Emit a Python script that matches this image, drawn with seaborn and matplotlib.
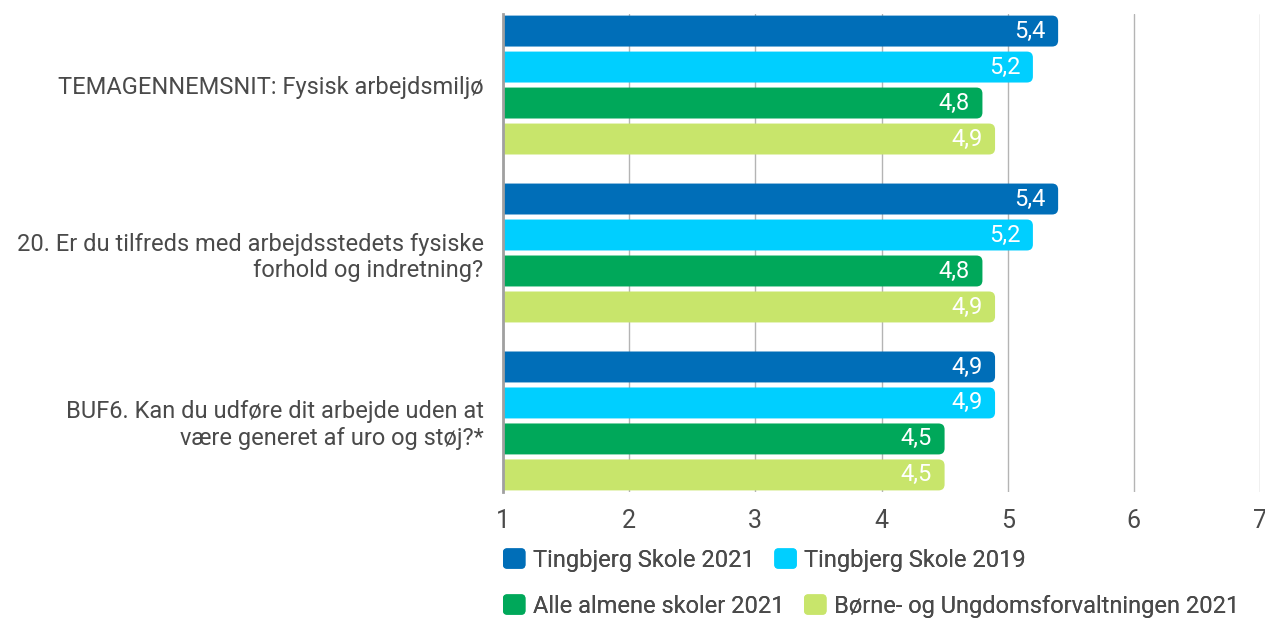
import pandas as pd
import matplotlib
matplotlib.use("Agg")
import matplotlib.pyplot as plt
from matplotlib.patches import FancyBboxPatch, Patch
from matplotlib.legend_handler import HandlerPatch
import seaborn as sns

questions = [
    "TEMAGENNEMSNIT: Fysisk arbejdsmiljø",
    "20. Er du tilfreds med arbejdsstedets fysiske\nforhold og indretning?",
    "BUF6. Kan du udføre dit arbejde uden at\nvære generet af uro og støj?*",
]
series = [
    "Tingbjerg Skole 2021",
    "Tingbjerg Skole 2019",
    "Alle almene skoler 2021",
    "Børne- og Ungdomsforvaltningen 2021",
]
tingbjerg_2021 = [5.4, 5.4, 4.9]
tingbjerg_2019 = [5.2, 5.2, 4.9]
alle_almene_2021 = [4.8, 4.8, 4.5]
buf_2021 = [4.9, 4.9, 4.5]
colors = ["#006eb8", "#00cfff", "#00a85a", "#c8e56b"]

rows = []
for s, vals in zip(series, [tingbjerg_2021, tingbjerg_2019, alle_almene_2021, buf_2021]):
    for q, v in zip(questions, vals):
        rows.append({"question": q, "series": s, "value": v})
df = pd.DataFrame(rows)

sns.set_style("white")
plt.rcParams['font.family'] = ['Roboto', 'DejaVu Sans']
text_col = "#4a4a4a"

fig = plt.figure(figsize=(12.65, 6.19), dpi=100)
ax = fig.add_axes([503 / 1265, 1 - 492 / 619, 757 / 1265, 478 / 619])

sns.barplot(data=df, y="question", x="value", hue="series", orient="h",
            palette=colors, saturation=1, width=0.857, gap=0.14,
            legend=False, ax=ax)

# rounded right ends + value labels inside
bars = list(ax.patches)
for p in bars:
    x, y, w, h = p.get_x(), p.get_y(), p.get_width(), p.get_height()
    fb = FancyBboxPatch((x, y), w, h, boxstyle="round,pad=0,rounding_size=0.048",
                        mutation_aspect=0.75, fc=p.get_facecolor(), ec="none", zorder=2)
    p.remove()
    ax.add_patch(fb)
    ax.text(x + w - 0.1, y + h / 2, f"{w:.1f}".replace(".", ","), ha="right", va="center",
            color="white", fontsize=17, zorder=3)

ax.set_xlim(1, 7)
ax.set_ylim(2.423, -0.423)
ax.set_xticks(range(1, 8))
ax.xaxis.grid(True, color="#b4b4b4", linewidth=1)
ax.set_axisbelow(True)
for s in ["top", "right", "bottom"]:
    ax.spines[s].set_visible(False)
ax.spines["left"].set_color("#a0a0a0")
ax.spines["left"].set_linewidth(2)
ax.tick_params(axis="x", length=7, color="#b4b4b4", labelsize=18, labelcolor=text_col, pad=5)
ax.tick_params(axis="y", length=0, labelsize=17, labelcolor=text_col, pad=14)
ax.set_xlabel("")
ax.set_ylabel("")


class RoundHandler(HandlerPatch):
    def create_artists(self, legend, orig_handle, xdescent, ydescent, width, height, fontsize, trans):
        p = FancyBboxPatch((-xdescent, -ydescent), width, height,
                           boxstyle="round,pad=0,rounding_size=3",
                           fc=orig_handle.get_facecolor(), ec="none", transform=trans)
        return [p]


handles = [Patch(facecolor=c, edgecolor="none", label=s) for c, s in zip(colors, series)]
for i, yc in enumerate([560, 606]):
    leg = fig.legend(handles=handles[2 * i:2 * i + 2], loc="center left",
                     bbox_to_anchor=(503 / 1265, 1 - yc / 619), ncol=2, frameon=False,
                     borderpad=0, borderaxespad=0, handlelength=0.95, handleheight=0.95,
                     handletextpad=0.3, columnspacing=0.85, fontsize=17,
                     handler_map={Patch: RoundHandler()})
    for t in leg.get_texts():
        t.set_color(text_col)
    fig.add_artist(leg)

fig.savefig("out.png", dpi=100)
